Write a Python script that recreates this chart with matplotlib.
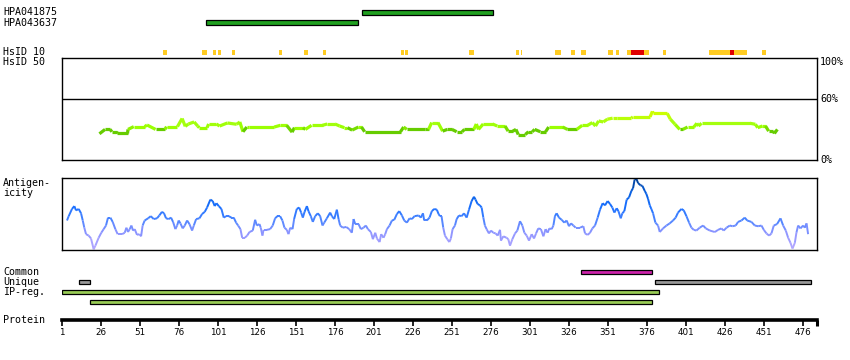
import numpy as np
import matplotlib
matplotlib.use("Agg")
import matplotlib.pyplot as plt
from matplotlib.collections import LineCollection
from matplotlib.colors import LinearSegmentedColormap

# ---- data ----
protein_len = 485
tick_res = list(range(1, 477, 25))

hpa_names = ["HPA041875", "HPA043637"]
hpa_start = [193, 93]
hpa_end = [277, 191]

# HsID 10 track
hsid_start = [66, 91, 98, 101, 110, 140, 156, 168, 218, 221, 262, 292, 295, 317, 327,
              334, 351, 356, 363, 366, 374, 386, 416, 429, 432, 450]
hsid_end = [68, 94, 100, 103, 112, 142, 159, 170, 220, 223, 265, 294, 296, 321, 330,
            337, 354, 358, 366, 374, 377, 388, 429, 432, 440, 452]
hsid_red = [366, 429]

# identity (%) along the protein
id_res = [25, 28.6, 31.8, 33, 36, 36.5, 43, 43.3, 47, 54, 55.5, 61, 67, 68, 75, 78, 80, 82,
          85.7, 88, 89, 94, 95, 100, 102, 107, 113, 115, 117, 119.5, 121, 137, 141, 145,
          148.5, 150, 155.5, 157, 161, 168, 171, 176, 179, 182, 184, 187, 191, 193, 195,
          218, 220, 222, 234, 236, 238, 242, 245, 248, 251, 254, 257.5, 259, 265, 266.6,
          268, 271, 277, 280, 285, 287, 290, 292, 293.5, 298, 300, 302.5, 304, 307.6, 311,
          313, 322, 325, 331, 334.5, 338, 341, 343, 345, 348, 350.6, 354, 357, 366, 367,
          378, 379.5, 380, 389, 391, 394, 397, 399, 402, 406, 408, 409, 411, 442, 445.5,
          447, 450, 452, 454, 457, 457.7, 459.6]
id_val = [25.7, 30, 30, 27.7, 27.7, 26, 26, 30, 32.7, 32.7, 34.3, 30, 30, 32.7, 32.7, 40.7,
          33, 35.3, 37.3, 33.3, 31.7, 31.7, 35.3, 35.3, 33.3, 36.3, 35, 37.3, 27.7, 32.3,
          32.3, 32.3, 34, 34, 27.3, 31.7, 31.7, 30, 34, 34, 35.3, 35.3, 33.3, 31.7, 31.7,
          29.3, 32.3, 32.3, 27.7, 27.7, 32.3, 30, 30, 30, 36.7, 36.7, 28.3, 30, 30, 27.7,
          27.7, 30, 30, 35.3, 30, 35.3, 35.3, 33.3, 33.3, 28.3, 28.3, 30, 25, 25, 27.7,
          27.7, 30, 27.7, 27.7, 32.3, 32.3, 30, 30, 34, 34, 36.7, 33.3, 38.3, 37.3, 40, 41,
          41, 41, 42.3, 42.3, 47.7, 45.7, 45.7, 40, 35, 30, 30, 32.3, 32.3, 36, 33.3, 36,
          36, 35, 31.7, 33.3, 33.3, 28.3, 28.3, 26, 30]

# antigenicity score (0..1 of panel height)
ag_res = [4.2, 5.3, 7.4, 8.9, 10, 11.7, 13.2, 14.3, 15.3, 16.4, 18.1, 19.6, 21.3, 22.4, 24.5,
          26.2, 27.7, 29.2, 30.5, 32, 33.5, 35.2, 36.7, 39.5, 41.2, 42.3, 43.3, 44.4, 45.5,
          46.5, 47.6, 49.1, 50.6, 51.7, 52.7, 54, 56.2, 57.9, 59.8, 61.9, 63.4, 65.1, 66.4,
          67.7, 69.4, 70.9, 72.2, 73.7, 74.8, 75.8, 76.9, 78.4, 79.7, 81.2, 82.7, 84.4, 85.5,
          87, 89.1, 90.8, 92.5, 94, 96.1, 97.6, 98.9, 100, 101.5, 103.2, 104.7, 106.2, 107.9,
          109.6, 111.1, 112.6, 113.9, 115.4, 116.5, 118.2, 119.7, 121.2,
          123.3, 124.8, 125.9, 127.6, 128.4, 129.5, 130.2, 132.3, 134.4, 136.1, 137.6, 139.1,
          140.8, 142.3, 143.6, 145.1, 146.2, 147.3, 148.8, 149.8, 151.5, 153, 154.3, 155.4,
          156.5, 158, 159, 160.5, 161.8, 163.3, 165, 166.5, 168, 169.1, 170.8, 172.9, 174,
          175.5, 177.2, 178.3, 179.3, 181, 183.2, 185.1, 186.8, 187.9, 189, 191.1, 192.6,
          194.3, 195.8, 197.1, 199, 200.3, 201.8, 202.9, 204.6, 205.6, 207.1, 208.2, 209.3,
          211, 212.5, 214, 215.7, 217.2, 218.9, 220.4, 222.1, 223.8, 225.3, 227, 229.6, 231.1,
          232.4, 233.2, 234.9, 236.6, 238.1, 239.6, 241.3, 242.4, 243.3, 244.3, 245.4, 246.5,
          248, 249.3, 250.3, 251.4, 252.9, 254, 255.5, 257.2, 258.7, 260.4, 261.9, 263.6,
          265.1, 266.1, 267.4, 268.9, 270, 271.1, 272.1, 273.2, 274.7, 276, 277.5, 279,
          280.3, 281.8, 282.4, 283.9, 286, 287.1, 288.2, 289.7, 291.4, 292.9, 294.6, 296.1,
          297.4, 298.9, 300.4, 302.1, 303.6, 304.9, 306.3, 308, 309.6, 311, 312.3, 313.4,
          314.9, 316, 317, 318.1, 319.6, 321.3, 323, 324.5, 326, 327.3, 328.8, 330.3, 333.1,
          335.2, 336.3, 338, 339.5, 341, 342.7, 344.4, 345.9, 347.6, 349.1, 350.8, 352.3,
          353.8, 355.1, 356.6, 357.7, 359.2, 360.2, 361.5, 363, 364.5, 366, 367.1, 368.1,
          369.2, 370.3, 371.8, 373.1, 374.6, 375.6, 376.7, 377.8, 378.8, 379.9, 381.4, 383.1,
          384.2, 386.3, 388.5, 390.6, 392.7, 394.4, 395.9, 398.1, 399.6, 401.3, 403, 404.5,
          406, 407.7, 409.8, 412, 413.7, 416.3, 419.5, 421.6, 423.7, 425.2, 427, 429.1,
          430.8, 432.9, 434.4, 436.6, 438.7, 440.2, 443, 445.1, 447.3, 449.4, 450.9, 452.6,
          454.3, 455.8, 457.3, 459.4, 461.6, 463.3, 465, 466.5, 468, 469.3, 470.8, 471.8,
          472.9, 474.4, 476.1, 477.2, 478.3, 479.3]
ag_val = [0.41, 0.47, 0.57, 0.61, 0.55, 0.57, 0.51, 0.41, 0.31, 0.22, 0.2, 0.16, 0.01, 0.06,
          0.17, 0.24, 0.29, 0.34, 0.45, 0.45, 0.39, 0.29, 0.22, 0.22, 0.24, 0.31, 0.25, 0.29,
          0.34, 0.27, 0.29, 0.21, 0.22, 0.19, 0.34, 0.41, 0.44, 0.47, 0.43, 0.44, 0.48, 0.53,
          0.51, 0.44, 0.43, 0.45, 0.39, 0.29, 0.34, 0.41, 0.37, 0.3, 0.34, 0.41, 0.36, 0.27,
          0.34, 0.43, 0.44, 0.5, 0.53, 0.59, 0.7, 0.68, 0.61, 0.65, 0.61, 0.57, 0.45, 0.47,
          0.47, 0.45, 0.45, 0.38, 0.34, 0.29, 0.17, 0.17, 0.2, 0.25,
          0.27, 0.42, 0.34, 0.36, 0.31, 0.2, 0.28, 0.28, 0.29, 0.34, 0.44, 0.47, 0.47, 0.41,
          0.31, 0.28, 0.22, 0.31, 0.29, 0.43, 0.57, 0.59, 0.52, 0.45, 0.53, 0.61, 0.54, 0.47,
          0.39, 0.47, 0.51, 0.47, 0.34, 0.38, 0.44, 0.52, 0.47, 0.43, 0.56, 0.43, 0.34, 0.31,
          0.32, 0.29, 0.24, 0.43, 0.36, 0.36, 0.29, 0.31, 0.34, 0.29, 0.25, 0.15, 0.24, 0.16,
          0.11, 0.22, 0.17, 0.22, 0.29, 0.34, 0.41, 0.42, 0.5, 0.54, 0.48, 0.41, 0.38, 0.44,
          0.43, 0.47, 0.48, 0.45, 0.51, 0.41, 0.41, 0.45, 0.54, 0.57, 0.56, 0.5, 0.47, 0.47,
          0.31, 0.2, 0.15, 0.11, 0.16, 0.29, 0.34, 0.43, 0.48, 0.47, 0.51, 0.45, 0.56, 0.68,
          0.74, 0.7, 0.64, 0.62, 0.59, 0.45, 0.34, 0.29, 0.23, 0.27, 0.24, 0.23, 0.2, 0.28,
          0.13, 0.19, 0.17, 0.15, 0.06, 0.15, 0.23, 0.27, 0.4, 0.34, 0.24, 0.2, 0.13, 0.22,
          0.16, 0.23, 0.3, 0.29, 0.19, 0.29, 0.24, 0.3, 0.29, 0.34, 0.47, 0.51, 0.45, 0.42,
          0.38, 0.41, 0.33, 0.37, 0.34, 0.31, 0.31, 0.33, 0.23, 0.21, 0.24, 0.3, 0.34, 0.45,
          0.56, 0.65, 0.62, 0.68, 0.64, 0.59, 0.52, 0.58, 0.54, 0.44, 0.51, 0.54, 0.7, 0.73,
          0.82, 0.86, 0.98, 0.99, 0.93, 0.9, 0.89, 0.82, 0.78, 0.71, 0.62, 0.57, 0.51, 0.38,
          0.34, 0.25, 0.3, 0.34, 0.37, 0.41, 0.45, 0.52, 0.57, 0.55, 0.47, 0.38, 0.31, 0.28,
          0.27, 0.31, 0.34, 0.3, 0.27, 0.25, 0.28, 0.3, 0.27, 0.31, 0.34, 0.33, 0.34, 0.39,
          0.41, 0.45, 0.41, 0.39, 0.34, 0.33, 0.34, 0.28, 0.23, 0.2, 0.23, 0.34, 0.36, 0.44,
          0.34, 0.27, 0.17, 0.1, 0.02, 0.1, 0.24, 0.34, 0.3, 0.34, 0.31, 0.37, 0.22]

# bottom feature bars, rows: 0 Common, 1 Unique, 2 IP-reg., 3 IP-reg. (2nd)
feat_row = [0, 1, 1, 2, 3]
feat_start = [334, 12, 381, 1, 19]
feat_end = [379, 19, 481, 384, 379]
feat_color = ["#cc22aa", "#999999", "#999999", "#99cc55", "#99cc55"]

# ---- layout ----
W_PX, H_PX = 850, 360
L_PX, R_PX = 62, 817
fig = plt.figure(figsize=(W_PX / 100, H_PX / 100), dpi=100)
mono = "DejaVu Sans Mono"
FS = 7.2


def px_axes(top, bottom):
    return fig.add_axes([L_PX / W_PX, 1 - bottom / H_PX,
                         (R_PX - L_PX) / W_PX, (bottom - top) / H_PX])


def clean(ax):
    ax.set_xlim(1, protein_len)
    ax.set_xticks([])
    ax.set_yticks([])
    for s in ax.spines.values():
        s.set_visible(False)
    ax.patch.set_alpha(0)


def label(y_px, txt):
    fig.text(3 / W_PX, 1 - y_px / H_PX, txt, family=mono, fontsize=FS,
             va="center", ha="left")


# HPA antibody bars
ax_hpa = px_axes(7.5, 27.5)
clean(ax_hpa)
ax_hpa.set_ylim(1.5, -0.5)
ax_hpa.barh(range(len(hpa_names)), np.subtract(hpa_end, hpa_start), left=hpa_start,
            height=0.45, color="#20a020", edgecolor="black", linewidth=0.9)

# HsID 10 track
ax_hs = px_axes(49.5, 55)
clean(ax_hs)
ax_hs.set_ylim(0, 1)
for s, e in zip(hsid_start, hsid_end):
    c = "#e00000" if s in hsid_red else "#ffcc22"
    ax_hs.broken_barh([(s, e - s)], (0, 1), color=c, linewidth=0)

# identity panel
ax_id = px_axes(58, 160)
ax_id.set_xlim(1, protein_len)
ax_id.set_ylim(0, 100)
ax_id.set_xticks([])
ax_id.set_yticks([])
for s in ax_id.spines.values():
    s.set_linewidth(1.0)
ax_id.axhline(60, color="black", linewidth=1.0)
id_cmap = LinearSegmentedColormap.from_list(
    "idc", [(0, "#66cc00"), (0.27, "#66cc00"), (0.33, "#99ff00"), (0.6, "#a6ff11"),
            (1, "#ccff00")])
pts = np.column_stack([id_res, id_val]).reshape(-1, 1, 2)
segs = np.concatenate([pts[:-1], pts[1:]], axis=1)
mid = (np.array(id_val[:-1]) + np.array(id_val[1:])) / 2
lc = LineCollection(segs, cmap=id_cmap, linewidths=2.3, capstyle="butt")
lc.set_array(mid)
lc.set_clim(25, 45)
ax_id.add_collection(lc)
for yv, t in [(96, "100%"), (60, "60%"), (0, "0%")]:
    ax_id.text(1.004, yv, t, transform=ax_id.get_yaxis_transform(), family=mono,
               fontsize=FS, va="center", ha="left")

# antigenicity panel
ax_ag = px_axes(178, 250)
ax_ag.set_xlim(1, protein_len)
ax_ag.set_ylim(0, 1.0)
ax_ag.set_xticks([])
ax_ag.set_yticks([])
for s in ax_ag.spines.values():
    s.set_linewidth(1.0)
ag_cmap = LinearSegmentedColormap.from_list(
    "agc", [(0, "#b8aaff"), (0.25, "#8c94ff"), (0.42, "#4a84ff"), (0.6, "#1a70ff"),
            (0.8, "#0860e0"), (1, "#003c8c")])
pts = np.column_stack([ag_res, ag_val]).reshape(-1, 1, 2)
segs = np.concatenate([pts[:-1], pts[1:]], axis=1)
mid = (np.array(ag_val[:-1]) + np.array(ag_val[1:])) / 2
lc2 = LineCollection(segs, cmap=ag_cmap, linewidths=1.4)
lc2.set_array(mid)
lc2.set_clim(0, 1)
ax_ag.add_collection(lc2)

# feature bars
ax_ft = px_axes(267, 307)
clean(ax_ft)
ax_ft.set_ylim(3.5, -0.5)
ax_ft.barh(feat_row, np.subtract(feat_end, feat_start), left=feat_start, height=0.45,
           color=feat_color, edgecolor="black", linewidth=0.9)

# protein axis
ax_p = px_axes(300, 320)
ax_p.set_xlim(1, protein_len)
ax_p.set_ylim(0, 1)
ax_p.patch.set_alpha(0)
for k in ["top", "left", "right"]:
    ax_p.spines[k].set_visible(False)
ax_p.spines["bottom"].set_linewidth(2.6)
ax_p.set_yticks([])
ax_p.set_xticks(tick_res)
ax_p.set_xticks([1, protein_len], minor=True)
ax_p.tick_params(axis="x", which="major", length=4, width=1.2, pad=2, labelsize=6.3)
ax_p.tick_params(axis="x", which="minor", length=4, width=2.2)
for t in ax_p.get_xticklabels():
    t.set_family("DejaVu Sans")

label(12.3, "HPA041875")
label(22.5, "HPA043637")
label(52, "HsID 10")
label(62.3, "HsID 50")
label(183.3, "Antigen-")
label(193.3, "icity")
label(272, "Common")
label(282, "Unique")
label(292, "IP-reg.")
label(320.3, "Protein")

fig.savefig("out.png", dpi=100)
